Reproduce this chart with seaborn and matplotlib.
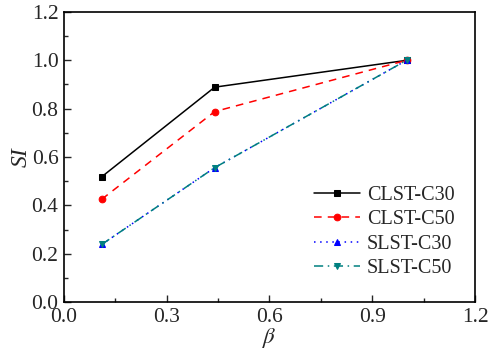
import matplotlib
matplotlib.use("Agg")
import matplotlib.pyplot as plt
import seaborn as sns
import pandas as pd
from matplotlib.ticker import MultipleLocator

beta = [0.11, 0.44, 1.0]
clst_c30 = [0.518, 0.889, 1.0]
clst_c50 = [0.425, 0.788, 1.0]
slst_c30 = [0.238, 0.556, 1.0]
slst_c50 = [0.238, 0.556, 1.0]
series_names = ["CLST-C30", "CLST-C50", "SLST-C30", "SLST-C50"]

sns.set_theme(style="ticks")
plt.rcParams['font.family'] = ['Liberation Serif', 'DejaVu Serif']
plt.rcParams['mathtext.fontset'] = 'stix'

fig = plt.figure(figsize=(4.88, 3.51), dpi=100)
ax = fig.add_axes([64/488, 1 - 302/351, (475-64)/488, (302-12)/351])

styles = [
    dict(color="black", linestyle="-", marker="s"),
    dict(color="red", linestyle=(0, (5, 4)), marker="o"),
    dict(color="blue", linestyle=(0, (1, 3)), marker="^"),
    dict(color="#008080", linestyle=(0, (6, 3, 1, 3)), marker="v"),
]
for name, vals, st in zip(series_names, [clst_c30, clst_c50, slst_c30, slst_c50], styles):
    df = pd.DataFrame({"x": beta, "y": vals})
    sns.lineplot(data=df, x="x", y="y", ax=ax, label=name, color=st["color"],
                 linestyle=st["linestyle"], marker=st["marker"], markersize=4.8,
                 markeredgecolor=st["color"], linewidth=1.1)

ax.set_xlim(0, 1.2)
ax.set_ylim(0, 1.2)
ax.xaxis.set_major_locator(MultipleLocator(0.3))
ax.xaxis.set_minor_locator(MultipleLocator(0.15))
ax.yaxis.set_major_locator(MultipleLocator(0.2))
ax.yaxis.set_minor_locator(MultipleLocator(0.1))
ax.set_xticklabels([f"{v:.1f}" for v in ax.get_xticks()])
ax.set_yticklabels([f"{v:.1f}" for v in ax.get_yticks()])
ax.tick_params(axis="both", which="both", direction="in", labelsize=15.5, top=False, right=False)
ax.tick_params(which="major", length=5, width=1, pad=4)
ax.tick_params(which="minor", length=3, width=1)
for s in ax.spines.values():
    s.set_linewidth(1.2)
    s.set_color("black")

ax.set_xlabel(r"$\beta$", fontsize=16.5, labelpad=-0.5)
ax.set_ylabel("SI", fontsize=17, style="italic", labelpad=0)

leg = ax.legend(loc="lower right", frameon=False, fontsize=14.5, handlelength=2.3,
                handletextpad=0.35, borderaxespad=0.3, labelspacing=0.25,
                bbox_to_anchor=(0.985, 0.035))

fig.savefig("out.png", dpi=100)
